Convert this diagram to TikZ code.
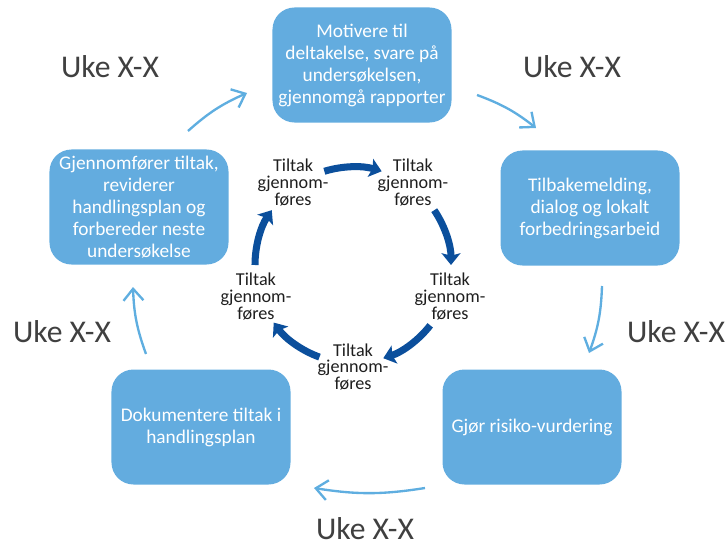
\documentclass[tikz,border=0pt]{standalone}
\usepackage{fontspec}
\setmainfont{Carlito}
\usepackage{tikz}
\usetikzlibrary{arrows.meta}
\usetikzlibrary{calc}
\usepackage{xcolor}
\definecolor{boxblue}{HTML}{63ACDF}
\definecolor{arrowblue}{HTML}{5FAEE0}
\definecolor{darkblue}{HTML}{0B4F9C}
\definecolor{ukegray}{HTML}{404040}
\definecolor{innertext}{HTML}{1E1E1E}

\begin{document}
\begin{tikzpicture}[x=0.03cm,y=0.03cm,
	stepbox/.style={fill=boxblue,rounded corners=0.66cm,minimum width=5.37cm,minimum height=3.45cm,
		inner sep=2pt,text=white,align=center,font=\fontsize{16.5}{18.8}\selectfont},
	ukelabel/.style={text=ukegray,inner sep=0pt,font=\fontsize{27}{31}\selectfont},
	tiltak/.style={text=innertext,inner sep=0pt,align=center,font=\fontsize{15.5}{14.4}\selectfont},
	cyclearrow/.style={draw=arrowblue,line width=2pt,-{Straight Barb[length=10pt,width=17pt]}},
	innerarrow/.style={draw=darkblue,line width=6pt,-{Stealth[length=10pt,width=16pt,inset=2pt]}}]
		
		\useasboundingbox (0,0) rectangle (728,546);
		
		% Process boxes
		\node[stepbox] (motivere) at (362,481) {Motivere til\\deltakelse, svare på\\undersøkelsen,\\gjennomgå rapporter};
		\node[stepbox] (tilbake) at (590,338) {Tilbakemelding,\\dialog og lokalt\\forbedringsarbeid};
		\node[stepbox] (risiko) at (532,119) {Gjør risiko-vurdering};
		\node[stepbox] (dokument) at (201,119) {Dokumentere tiltak i\\handlingsplan};
		\node[stepbox] (revider) at (139,339) {Gjennomfører tiltak,\\reviderer\\handlingsplan og\\forbereder neste\\undersøkelse};
		
		% Week labels
		\node[ukelabel] (uke1) at (110,479) {Uke X-X};
		\node[ukelabel] (uke2) at (572,479) {Uke X-X};
		\node[ukelabel] (uke3) at (676,214) {Uke X-X};
		\node[ukelabel] (uke4) at (365,17) {Uke X-X};
		\node[ukelabel] (uke5) at (62,214) {Uke X-X};
		
		% Outer cycle arrows
		\coordinate (p1) at (188,415); \coordinate (q1) at (247,453);
		\coordinate (p2) at (477,451); \coordinate (q2) at (536,418);
		\coordinate (p3) at (602,260); \coordinate (q3) at (589,193);
		\coordinate (p4) at (425,58);  \coordinate (q4) at (314,58);
		\coordinate (p5) at (146,192); \coordinate (q5) at (133,259);
		\foreach \i in {1,...,5}
			\draw[cyclearrow] (p\i) to[bend left=9] (q\i);
		
		% Inner cycle
		\coordinate (c) at (353,281);
		\foreach \a [count=\i] in {126,54,-18,-90,-162}
			\node[tiltak] (tiltak\i) at ($(c)+(\a:102)$) {Tiltak\\gjennom-\\føres};
		\foreach \m in {90,17,-55,-127,-197}
			\draw[innerarrow] ($(c)+(\m+17:98)$) arc[start angle=\m+17,end angle=\m-17,radius=2.94cm];
		
	\end{tikzpicture}
\end{document}
